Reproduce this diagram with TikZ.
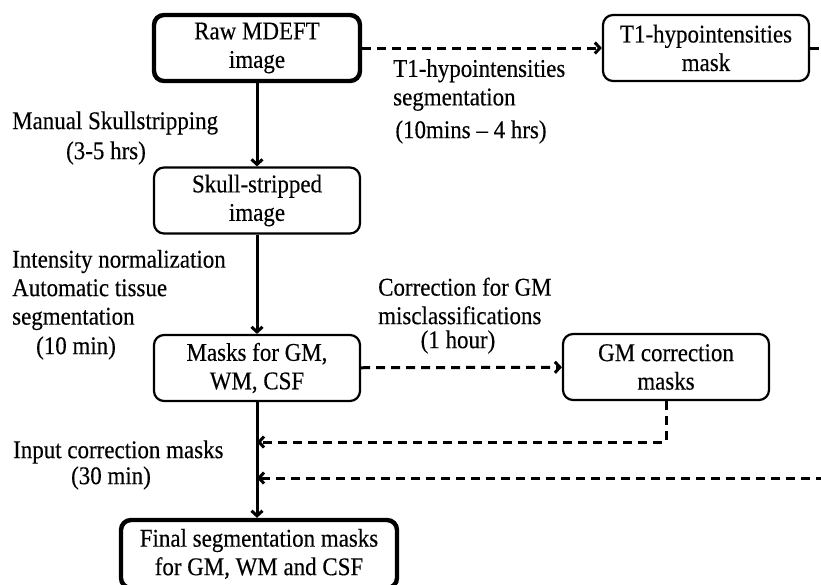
\documentclass[tikz,border=0pt]{standalone}
\usepackage{fontspec}
\setmainfont{Liberation Serif}[FakeStretch = 0.9, FakeBold = 0.3]
\usetikzlibrary{arrows.meta}

\tikzset{
	stage/.style = {draw, rounded corners = 10pt, line width = 2.2pt, minimum width = 206pt, minimum height = 66pt, align = center, inner sep = 2pt},
	endstage/.style = {stage, line width = 4.4pt},
	lbl/.style = {align = left, anchor = west, inner sep = 0pt},
	flow/.style = {line width = 3pt, -{Straight Barb[length = 5pt, width = 11pt]}},
	dflow/.style = {flow, dash pattern = on 9pt off 6pt}
}

\begin{document}
\begin{tikzpicture}[x = 1pt, y = -1pt, font = \fontsize{25.5}{28.5}\selectfont]
			\useasboundingbox (0,0) rectangle (821,584);
			
			\node[endstage] (raw) at (257,48) {Raw MDEFT\\image};
			\node[stage] (t1mask) at (706,48) {T1-hypointensities\\mask};
			\node[stage] (skull) at (257,200.5) {Skull-stripped\\image};
			\node[stage] (masks) at (257,368) {Masks for GM,\\WM, CSF};
			\node[stage] (gmcorr) at (666,367) {GM correction\\masks};
			\node[endstage, minimum width = 276pt, minimum height = 68pt] (final) at (259,554) {Final segmentation masks\\for GM, WM and CSF};
			
			\node[lbl] (skulltxt) at (12,123) {Manual Skullstripping};
			\node (skulltime) at (106,153) {(3-5 hrs)};
			\node[lbl] (tissuetxt) at (12,290) {Intensity normalization\\Automatic tissue\\segmentation};
			\node (tissuetime) at (76,348) {(10 min)};
			\node[lbl] (t1txt) at (393,85) {T1-hypointensities\\segmentation};
			\node (t1time) at (471,132) {(10mins -- 4 hrs)};
			\node[lbl] (gmtxt) at (378,301) {Correction for GM\\misclassifications};
			\node (gmtime) at (458,342) {(1 hour)};
			\node[lbl] (inputtxt) at (13,452) {Input correction masks};
			\node (inputtime) at (111,478) {(30 min)};
			
			\coordinate (join1) at (257,442);
			\coordinate (join2) at (257,478);
			\coordinate (t1out) at (850,48);
			\coordinate (t1back) at (850,478);
			
			\draw[flow] (raw) -- (skull);
			\draw[flow] (skull) -- (masks);
			\draw[flow] (masks.south) -- (masks.south |- final.north);
			\draw[dflow] (raw) -- (t1mask);
			\draw[dflow] (masks) -- (gmcorr);
			\draw[dflow] (gmcorr.south) |- (join1);
			\draw[dflow] (t1mask.east) -- (t1out) -- (t1back) -- (join2);
		\end{tikzpicture}
\end{document}
